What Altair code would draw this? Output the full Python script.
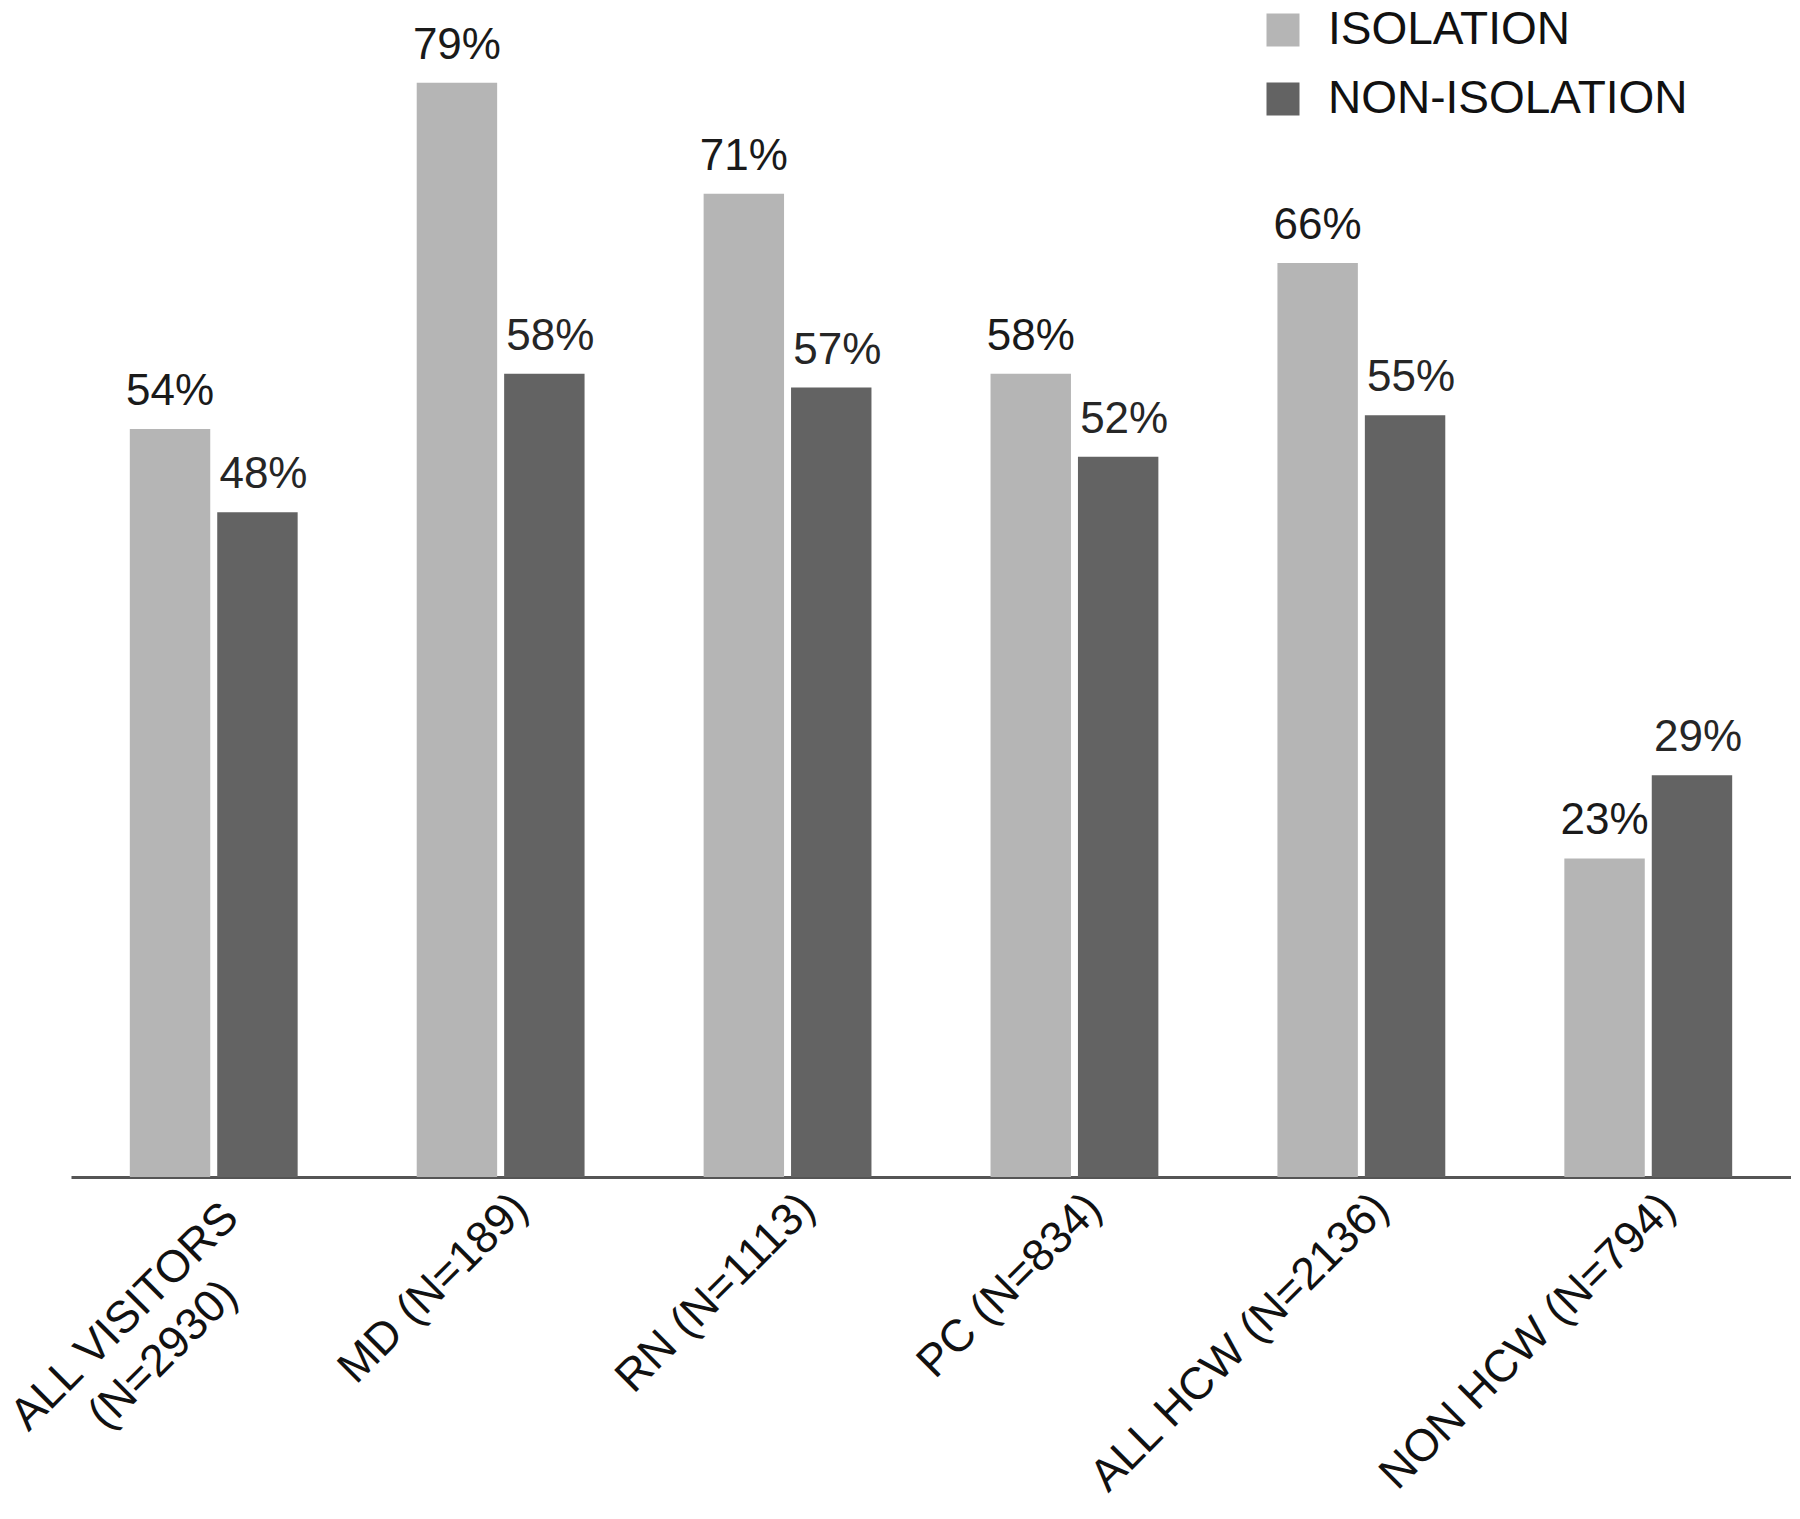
import altair as alt
import pandas as pd

FONT = "Liberation Sans"

categories = [
    "ALL VISITORS|(N=2930)",
    "MD (N=189)",
    "RN (N=1113)",
    "PC (N=834)",
    "ALL HCW (N=2136)",
    "NON HCW (N=794)",
]
groups = ["ISOLATION", "NON-ISOLATION"]
isolation = [54, 79, 71, 58, 66, 23]
non_isolation = [48, 58, 57, 52, 55, 29]
colors = ["#b5b5b5", "#636363"]

rows = []
for c, a, b in zip(categories, isolation, non_isolation):
    rows.append({"category": c, "group": groups[0], "value": a})
    rows.append({"category": c, "group": groups[1], "value": b})
df = pd.DataFrame(rows)
df["label"] = df["value"].astype(str) + "%"

multi_test = "indexof(datum.value, '|') >= 0"

x = alt.X(
    "category:N",
    sort=categories,
    scale=alt.Scale(paddingInner=0.415, paddingOuter=0.205),
    axis=alt.Axis(
        title=None,
        labelAngle=-45,
        labelAlign={"condition": {"test": multi_test, "value": "center"}, "value": "right"},
        labelBaseline={"condition": {"test": multi_test, "value": "middle"}, "value": "top"},
        labelOffset={"condition": {"test": multi_test, "value": -89}, "value": 4},
        labelPadding={"condition": {"test": multi_test, "value": 139}, "value": 8},
        labelFontSize=45,
        labelFont=FONT,
        labelColor="#111111",
        ticks=False,
        tickSize=0,
        domainColor="#555555",
        domainWidth=3,
        labelExpr="split(datum.label, '|')",
        labelLineHeight=54,
        labelLimit=1000,
        grid=False,
    ),
)
xoff = alt.XOffset("group:N", sort=groups, scale=alt.Scale(paddingInner=0.08, paddingOuter=0))
y = alt.Y("value:Q", scale=alt.Scale(domain=[0, 80], nice=False, zero=True), axis=None)

base = alt.Chart(df)

bars = base.mark_bar().encode(
    x=x,
    xOffset=xoff,
    y=y,
    color=alt.Color(
        "group:N",
        sort=groups,
        scale=alt.Scale(domain=groups, range=colors),
        legend=alt.Legend(
            orient="none",
            legendX=1189,
            legendY=-62,
            title=None,
            symbolType="square",
            symbolSize=1089,
            symbolStrokeWidth=0,
            symbolOpacity=1,
            labelFontSize=46,
            labelFont=FONT,
            labelColor="#111111",
            labelOffset=22,
            rowPadding=23,
            padding=0,
            labelLimit=1000,
        ),
    ),
)

text_iso = base.transform_filter(alt.datum.group == groups[0]).mark_text(
    baseline="bottom", align="center", dy=-15, fontSize=44, font=FONT, color="#1a1a1a"
).encode(x=x, xOffset=xoff, y=y, text="label:N")

text_non = base.transform_filter(alt.datum.group == groups[1]).mark_text(
    baseline="bottom", align="center", dy=-15, dx=6, fontSize=44, font=FONT, color="#262626"
).encode(x=x, xOffset=xoff, y=y, text="label:N")

chart = (
    alt.layer(bars, text_iso, text_non)
    .properties(
        width=1720,
        height=1108,
        padding={"left": 63, "top": 61, "right": 0, "bottom": 334},
        autosize=alt.AutoSizeParams(type="none"),
    )
    .configure_view(stroke=None)
)

chart.save("out.html", embed_options={"renderer": "svg", "actions": False})
